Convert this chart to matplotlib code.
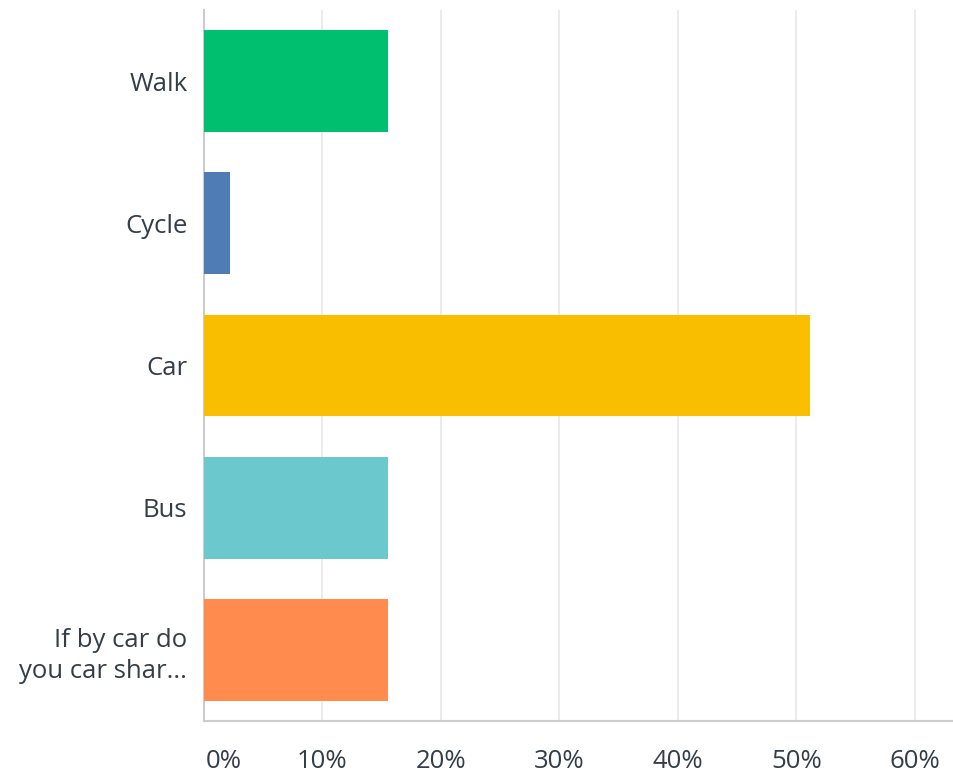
import matplotlib
matplotlib.use("Agg")
import matplotlib.pyplot as plt
import matplotlib.transforms as mtransforms
from matplotlib.ticker import FuncFormatter

categories = ["Walk", "Cycle", "Car", "Bus", "If by car do\nyou car shar..."]
values = [15.56, 2.22, 51.11, 15.56, 15.56]
colors = ["#00BF6F", "#507CB6", "#F9BE00", "#6BC8CD", "#FF8B4F"]
xticks = [0, 10, 20, 30, 40, 50, 60]

plt.rcParams['font.family'] = ['Open Sans', 'DejaVu Sans']

fig = plt.figure(figsize=(9.54, 7.78), dpi=100)
ax = fig.add_axes([204/954, 1-721/778, (954-204)/954, (721-10)/778])

pos = list(range(len(categories)))
ax.barh(pos, values, height=0.717, color=colors, zorder=3)
ax.set_ylim(len(categories)-0.5, -0.5)
ax.set_xlim(0, 63.3)
ax.set_yticks(pos)
ax.set_yticklabels(categories, fontsize=18.5, color="#333E48", linespacing=1.3)
ax.set_xticks(xticks)
ax.xaxis.set_major_formatter(FuncFormatter(lambda v, p: f"{int(v)}%"))
ax.tick_params(axis='x', labelsize=18.5, labelcolor="#333E48", length=0, pad=20)
ax.tick_params(axis='y', length=0, pad=12)
ax.grid(axis='x', color="#E8E8E8", linewidth=1.2, zorder=0)
for s in ["top", "right"]:
    ax.spines[s].set_visible(False)
ax.spines["left"].set_color("#CCCCCC")
ax.spines["left"].set_linewidth(1.5)
ax.spines["bottom"].set_color("#CCCCCC")
ax.spines["bottom"].set_linewidth(1.5)

fig.canvas.draw()
lbl0 = ax.get_xticklabels()[0]
lbl0.set_transform(lbl0.get_transform() + mtransforms.ScaledTranslation(20/100, 0, fig.dpi_scale_trans))

fig.savefig("out.png", dpi=100)
